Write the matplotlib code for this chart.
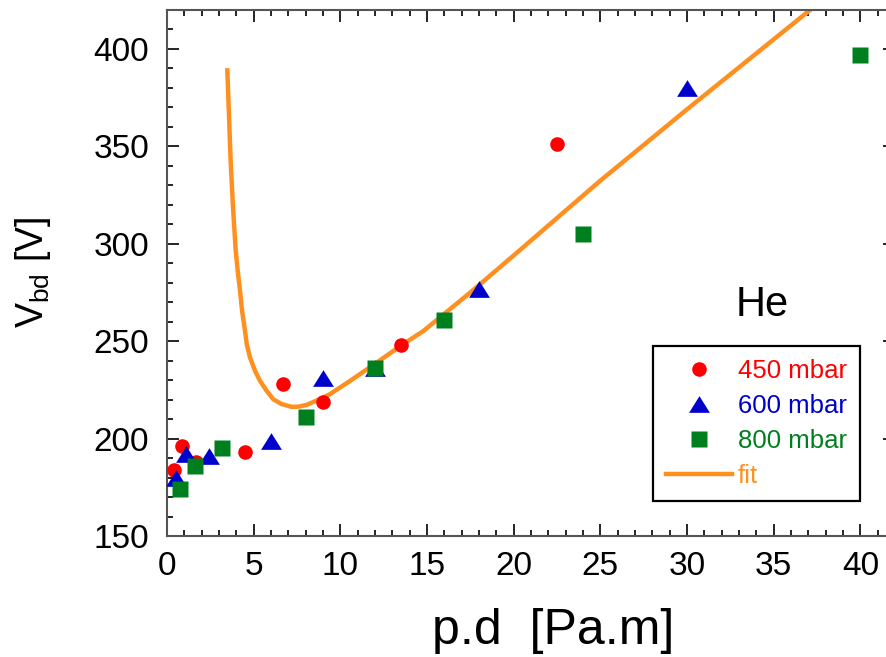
import matplotlib
matplotlib.use("Agg")
import matplotlib.pyplot as plt
from matplotlib.ticker import MultipleLocator

plt.rcParams['font.family'] = ['Liberation Sans', 'DejaVu Sans']
plt.rcParams['mathtext.fontset'] = 'custom'
plt.rcParams['mathtext.rm'] = 'Liberation Sans'
plt.rcParams['mathtext.it'] = 'Liberation Sans'

# measured points, p.d [Pa.m] vs breakdown voltage [V]
pd_450 = [0.4, 0.85, 1.7, 4.5, 6.7, 9.0, 13.5, 22.5]
v_450 = [184, 196, 188, 193, 228, 219, 248, 351]

pd_600 = [0.5, 1.1, 2.4, 6.0, 9.0, 12.0, 18.0, 30.0]
v_600 = [180, 192, 191, 199, 231, 236, 277, 380]

pd_800 = [0.75, 1.6, 3.2, 8.0, 12.0, 16.0, 24.0, 40.0]
v_800 = [174, 186, 195, 211, 236, 261, 305, 397]

# fit curve
pd_fit = [3.48, 3.56, 3.66, 3.8, 3.96, 4.08, 4.2, 4.34, 4.5, 4.6, 4.79, 5.08,
          5.37, 5.75, 6.13, 6.62, 7.19, 7.6, 8.06, 8.7, 9.4, 10.56, 12.1,
          13.48, 14.8, 17.5, 20.0, 25.0, 30.0, 37.1]
v_fit = [389, 370, 345, 320, 297, 286, 277, 265, 255.3, 248.5, 241.6, 234.8,
         229.6, 224.5, 220.2, 217.7, 216.3, 216.4, 217.3, 219.8, 222.8, 229.6,
         239, 247.6, 255.3, 275, 294, 332.4, 369, 420]

c_red = '#FF0000'
c_blue = '#0000CC'
c_green = '#007F1F'
c_orange = '#FF8F1F'

W, H = 886, 657
fig = plt.figure(figsize=(W / 100, H / 100), dpi=100)
ax = fig.add_axes([167 / W, 121 / H, 728 / W, 526 / H])

tri = [(0, 0.8), (-1, -0.8), (1, -0.8)]

ax.plot(pd_fit, v_fit, color=c_orange, lw=3.2, solid_joinstyle='round', label='fit', zorder=2)
ax.plot(pd_450, v_450, 'o', color=c_red, ms=10.5, mec='none', label='450 mbar', zorder=3)
ax.plot(pd_600, v_600, marker=tri, ls='none', color=c_blue, ms=15, mec='none',
        label='600 mbar', zorder=3)
ax.plot(pd_800, v_800, 's', color=c_green, ms=11.5, mec='none', label='800 mbar', zorder=4)

ax.set_xlim(0, 42)
ax.set_ylim(150, 420)
ax.xaxis.set_major_locator(MultipleLocator(5))
ax.xaxis.set_minor_locator(MultipleLocator(1))
ax.yaxis.set_major_locator(MultipleLocator(50))
ax.yaxis.set_minor_locator(MultipleLocator(10))
ax.tick_params(which='both', direction='in', top=True, right=True, width=1.2, color='black')
ax.tick_params(which='major', length=8.5)
ax.tick_params(which='minor', length=4.3)
ax.tick_params(axis='y', labelsize=24, pad=13)
ax.tick_params(axis='x', labelsize=24, pad=11)
for sp in ax.spines.values():
    sp.set_color('#555555')
    sp.set_linewidth(1.5)

ax.set_xlabel('p.d  [Pa.m]', fontsize=36)
ax.xaxis.set_label_coords(0.530, -0.181)
ax.xaxis.label.set_verticalalignment('center')
ax.set_ylabel(r'V$_{\mathrm{bd}}$ [V]', fontsize=27)
ax.yaxis.set_label_coords(-0.184, 0.502)
ax.yaxis.label.set_verticalalignment('center')

ax.text(32.78, 263, 'He', fontsize=30, ha='left', va='baseline')

handles, labels = ax.get_legend_handles_labels()
order = [1, 2, 3, 0]
leg = ax.legend([handles[i] for i in order], [labels[i] for i in order],
                loc='upper left', bbox_to_anchor=(652.7 / W, 1 - 345.7 / H),
                bbox_transform=fig.transFigure, borderaxespad=0,
                fontsize=18.5, handlelength=2.6, handletextpad=0.22,
                labelspacing=0.43, borderpad=0.5, fancybox=False,
                framealpha=1, edgecolor='black')
leg.get_frame().set_linewidth(1.6)
for txt, col in zip(leg.get_texts(), [c_red, c_blue, c_green, c_orange]):
    txt.set_color(col)

fig.savefig('out.png', dpi=100)
